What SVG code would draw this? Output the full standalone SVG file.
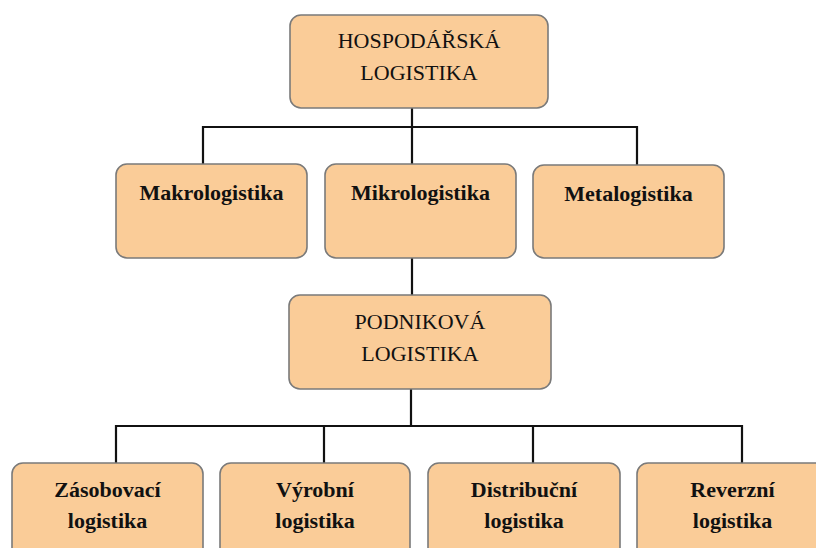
<svg xmlns="http://www.w3.org/2000/svg" width="816" height="548" viewBox="0 0 816 548">
<style>
.box{fill:#FACC98;stroke:#7a7a7a;stroke-width:1.6}
.c{fill:none;stroke:#111;stroke-width:2.2}
text{fill:#111;text-anchor:middle;font-family:'Liberation Serif','Times New Roman',serif;font-size:22px}
.b{font-weight:bold}
</style>
<rect width="816" height="548" fill="#fff"/>
<g id="connectors">
<path class="c" d="M412 108V127M203 164V127H637V165M412 127V164M412 258V295M411 389V426M116 463V426H742V463M324 426V463M533 426V463"/>
</g>
<g id="hospodarska">
<rect class="box" x="290" y="15" width="258" height="93" rx="11"/>
<text x="419" y="48">HOSPODÁŘSKÁ</text>
<text x="419" y="80">LOGISTIKA</text>
</g>
<g id="makro">
<rect class="box" x="116" y="164" width="191" height="94" rx="11"/>
<text class="b" x="211.5" y="200">Makrologistika</text>
</g>
<g id="mikro">
<rect class="box" x="325" y="164" width="191" height="94" rx="11"/>
<text class="b" x="420.5" y="200">Mikrologistika</text>
</g>
<g id="meta">
<rect class="box" x="533" y="165" width="191" height="93" rx="11"/>
<text class="b" x="628.5" y="201">Metalogistika</text>
</g>
<g id="podnikova">
<rect class="box" x="289" y="295" width="262" height="94" rx="11"/>
<text x="420" y="329">PODNIKOVÁ</text>
<text x="420" y="361">LOGISTIKA</text>
</g>
<g id="zasobovaci">
<rect class="box" x="12" y="463" width="191" height="100" rx="11"/>
<text class="b" x="107.5" y="497">Zásobovací</text>
<text class="b" x="107.5" y="528">logistika</text>
</g>
<g id="vyrobni">
<rect class="box" x="220" y="463" width="190" height="100" rx="11"/>
<text class="b" x="315" y="497">Výrobní</text>
<text class="b" x="315" y="528">logistika</text>
</g>
<g id="distribucni">
<rect class="box" x="428" y="463" width="192" height="100" rx="11"/>
<text class="b" x="524" y="497">Distribuční</text>
<text class="b" x="524" y="528">logistika</text>
</g>
<g id="reverzni">
<rect class="box" x="637" y="463" width="191" height="100" rx="11"/>
<text class="b" x="732.5" y="497">Reverzní</text>
<text class="b" x="732.5" y="528">logistika</text>
</g>
</svg>
